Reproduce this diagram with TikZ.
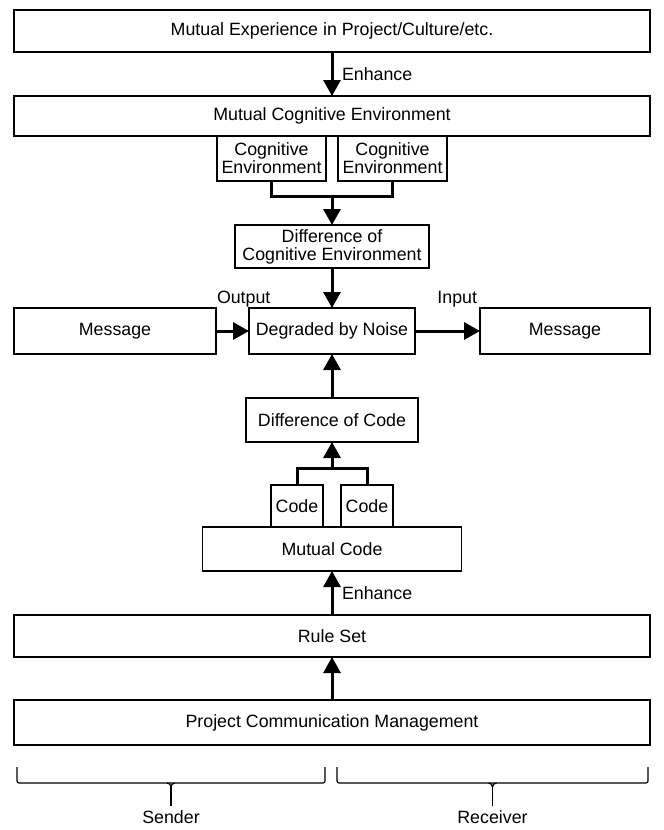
\documentclass[tikz,border=0pt]{standalone}
\usepackage{fontspec}
\setmainfont{Liberation Sans}
\usepackage{tikz}
\usetikzlibrary{arrows.meta, positioning, calc}

\begin{document}
\begin{tikzpicture}[node distance=44pt, >={Triangle[length=16pt,width=17pt]}]
\tikzstyle{box} = [rectangle, draw, line width=1.2pt, outer sep=0pt, minimum height=42pt, inner sep=1pt, align=center, font=\fontsize{17.8}{18}\selectfont]
\tikzstyle{wide} = [box, minimum width=636pt]
\tikzstyle{arrow} = [->, line width=3pt]
\tikzstyle{link} = [line width=3pt]
\tikzstyle{lbl} = [inner sep=1pt, outer sep=0pt, font=\fontsize{17.8}{18}\selectfont]
\tikzstyle{bracket} = [line width=1.2pt, rounded corners=2pt]

\useasboundingbox (0,0) rectangle (664pt,-830pt);

\node[wide] (exp) at (332pt,-31pt) {Mutual Experience in Project/Culture/etc.};
\node[wide, minimum height=40pt, below=of exp] (mce) {Mutual Cognitive Environment};
\node[box, minimum width=109pt, minimum height=45pt, below left=0pt and 6pt of mce.south] (envA) {Cognitive\\Environment};
\node[box, minimum width=109pt, minimum height=45pt, below right=0pt and 6pt of mce.south] (envB) {Cognitive\\Environment};
\coordinate (envjoin) at ([yshift=-15pt]mce.south |- envA.south);
\node[box, minimum width=194pt, minimum height=43pt, below=29pt of envjoin] (envdiff) {Difference of\\Cognitive Environment};
\node[box, minimum width=166pt, minimum height=46pt, below=40pt of envdiff] (noise) {Degraded by Noise};
\node[box, minimum width=202pt, minimum height=46pt, left=33pt of noise] (msgout) {Message};
\node[box, minimum width=170pt, minimum height=46pt, right=65pt of noise] (msgin) {Message};
\node[lbl, above right=0pt and 0pt of msgout.north east] (outlbl) {Output};
\node[lbl, above left=0pt and 2pt of msgin.north west] (inlbl) {Input};
\node[box, minimum width=172pt, minimum height=44pt, below=of noise] (codediff) {Difference of Code};
\coordinate[below=26pt of codediff] (codejoin);
\node[box, minimum width=259pt, minimum height=44pt, below=85pt of codediff] (mcode) {Mutual Code};
\node[box, minimum width=52pt, above left=0pt and 9pt of mcode.north] (codeA) {Code};
\node[box, minimum width=52pt, above right=0pt and 9pt of mcode.north] (codeB) {Code};
\node[wide, below=of mcode] (rules) {Rule Set};
\node[wide, minimum height=45pt, below=43pt of rules] (pcm) {Project Communication Management};

% sender / receiver braces
\coordinate (sendA) at ([xshift=3pt,yshift=-22pt]pcm.south west);
\coordinate (sendB) at ([xshift=-7pt,yshift=-22pt]pcm.south);
\coordinate (recvA) at ([xshift=5pt,yshift=-22pt]pcm.south);
\coordinate (recvB) at ([xshift=-2pt,yshift=-22pt]pcm.south east);
\coordinate (sendmid) at ($(sendA)!0.5!(sendB)+(0,-16pt)$);
\coordinate (recvmid) at ($(recvA)!0.5!(recvB)+(0,-16pt)$);
\coordinate[below=23pt of sendmid] (sendstem);
\coordinate[below=23pt of recvmid] (recvstem);
\node[lbl, below=4pt of sendstem] (sender) {Sender};
\node[lbl, below=4pt of recvstem] (receiver) {Receiver};

\draw[arrow] (exp) -- node[lbl, right=9pt] (enhA) {Enhance} (mce);
\draw[link] (envA) -- (envA |- envjoin) -- (envB |- envjoin) -- (envB);
\draw[arrow] (envjoin) -- (envdiff);
\draw[arrow] (envdiff) -- (noise);
\draw[arrow] (msgout) -- (noise);
\draw[arrow] (noise) -- (msgin);
\draw[arrow] (codediff) -- (noise);
\draw[link] (codeA) -- (codeA |- codejoin) -- (codeB |- codejoin) -- (codeB);
\draw[arrow] (codejoin) -- (codediff);
\draw[arrow] (rules) -- node[lbl, right=9pt] (enhB) {Enhance} (mcode);
\draw[arrow] (pcm) -- (rules);

\draw[bracket] (sendA) |- (sendmid) -| (sendB);
\draw[bracket] (recvA) |- (recvmid) -| (recvB);
\draw[line width=1.2pt] ([xshift=-4pt]sendmid) to[out=0,in=90] ([yshift=-4pt]sendmid) to[out=90,in=180] ([xshift=4pt]sendmid);
\draw[line width=1.2pt] ([yshift=-4pt]sendmid) -- (sendstem);
\draw[line width=1.2pt] ([xshift=-4pt]recvmid) to[out=0,in=90] ([yshift=-4pt]recvmid) to[out=90,in=180] ([xshift=4pt]recvmid);
\draw[line width=1.2pt] ([yshift=-4pt]recvmid) -- (recvstem);
\end{tikzpicture}
\end{document}
